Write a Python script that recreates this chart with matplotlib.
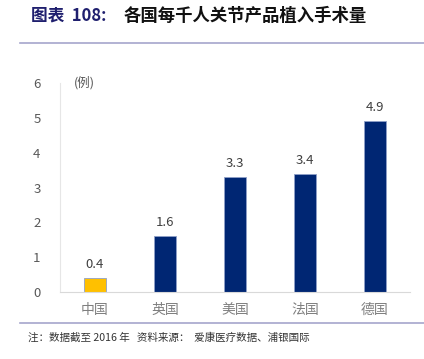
import matplotlib.pyplot as plt
from matplotlib.lines import Line2D

plt.rcParams['font.family'] = ['Noto Sans CJK SC', 'DejaVu Sans']

countries = ["中国", "英国", "美国", "法国", "德国"]
values = [0.4, 1.6, 3.3, 3.4, 4.9]
colors = ["#FFC000", "#002673", "#002673", "#002673", "#002673"]
yticks = [0, 1, 2, 3, 4, 5, 6]

fig = plt.figure(figsize=(4.24, 3.59), dpi=100)
ax = fig.add_axes([60 / 424, 1 - 292 / 359, 350 / 424, 209 / 359])

x = range(len(countries))
bars = ax.bar(x, values, width=0.32, color=colors, edgecolor="#8fa0c8", linewidth=0.6)
for xi, v in zip(x, values):
    ax.text(xi, v + 0.2, f"{v}", ha="center", va="bottom", fontsize=9.5, color="#404040")

ax.set_xlim(-0.5, 4.5)
ax.set_ylim(0, 6)
ax.set_yticks(yticks)
ax.set_xticks(list(x))
ax.set_xticklabels(countries, color="#7f7f7f", fontsize=10, fontweight="light")
ax.tick_params(axis="y", length=0, pad=14, labelsize=9.5, labelcolor="#595959")
ax.tick_params(axis="x", length=0, pad=8)
for s in ["top", "right"]:
    ax.spines[s].set_visible(False)
ax.spines["left"].set_color("#e6e6e6")
ax.spines["bottom"].set_color("#d9d9d9")
ax.text(0.04, 1.0, "(例)", transform=ax.transAxes, ha="left", va="center",
        fontsize=9, color="#595959")

# header / footer
fig.text(31 / 424, 1 - 16 / 359, "图表  108:", ha="left", va="center",
         fontsize=12, fontweight="bold", color="#1f1f6e")
fig.text(124 / 424, 1 - 16 / 359, "各国每千人关节产品植入手术量", ha="left", va="center",
         fontsize=12.5, fontweight="bold", color="#111111")
fig.add_artist(Line2D([20 / 424, 1], [1 - 43 / 359] * 2, color="#a6a6cc", lw=1.2))
fig.add_artist(Line2D([20 / 424, 1], [1 - 323 / 359] * 2, color="#a6a6cc", lw=1.2))
fig.text(28 / 424, 1 - 337 / 359, "注：数据截至 2016 年   资料来源：  爱康医疗数据、浦银国际",
         ha="left", va="center", fontsize=7.6, color="#333333")

fig.savefig("out.png", dpi=100)
